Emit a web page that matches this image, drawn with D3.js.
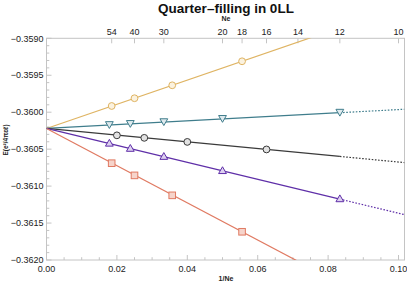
<!DOCTYPE html>
<html><head><meta charset="utf-8">
<script src="https://cdn.jsdelivr.net/npm/d3@7"></script>
<style>body{margin:0;background:#fff}svg{display:block}text{font-family:"Liberation Sans",Arial,sans-serif}</style>
</head><body><svg id="c" width="407" height="285"></svg>
<script>
// ---- data ----
const neYellow = [54, 40, 28, 18];
const eYellow  = [-0.359916, -0.359811, -0.359636, -0.359311];
const neTeal   = [56, 42, 30, 20, 12];
const eTeal    = [-0.360174, -0.360159, -0.360135, -0.360091, -0.360007];
const neBlack  = [50, 36, 25, 16];
const eBlack   = [-0.360313, -0.360347, -0.360402, -0.360504];
const nePurple = [56, 42, 30, 20, 12];
const ePurple  = [-0.360424, -0.360494, -0.360603, -0.360795, -0.361176];
const neRed    = [54, 40, 28, 18];
const eRed     = [-0.360690, -0.360855, -0.361125, -0.361618];
const fitIntercept = -0.36022;
const fitSlopes = [0.01636, 0.002556, -0.004544, -0.01147, -0.02516];
const fitSolidEnd = 1/12;
const topNeTicks = [54, 40, 30, 20, 18, 16, 14, 12, 10];
const xTicks = [0, 0.02, 0.04, 0.06, 0.08, 0.10];
const yTicks = [-0.3620, -0.3615, -0.3610, -0.3605, -0.3600, -0.3595, -0.3590];

const colors  = ["#dfb463", "#3f7d8c", "#3a3a3a", "#5f2fa8", "#e07a62"];
const fills   = ["#fbf2df", "#dfeaee", "#e2e2e2", "#ddd0f0", "#f6d4cb"];
const shapes  = ["circle", "tridown", "circle", "triup", "square"];
const neAll = [neYellow, neTeal, neBlack, nePurple, neRed];
const eAll  = [eYellow, eTeal, eBlack, ePurple, eRed];

// ---- layout ----
const svg = d3.select("#c");
const L = 46.5, R = 404.5, T = 38.3, B = 260;
const x = d3.scaleLinear().domain([0, 0.1017]).range([L, R]);
const y = d3.scaleLinear().domain([-0.3620, -0.3590]).range([B, T]);
const frameCol = "#c4c4c4";

svg.append("defs").append("clipPath").attr("id","clip")
  .append("rect").attr("x",L).attr("y",T).attr("width",R-L).attr("height",B-T);

// frame
svg.append("rect").attr("x",L).attr("y",T).attr("width",R-L).attr("height",B-T)
  .attr("fill","none").attr("stroke",frameCol).attr("stroke-width",1);

// bottom axis ticks (inward)
const g = svg.append("g");
const xMinor = d3.range(0, 0.1001, 0.005);
xMinor.forEach(v=>{
  const major = xTicks.some(t=>Math.abs(t-v)<1e-9);
  g.append("line").attr("x1",x(v)).attr("x2",x(v)).attr("y1",B).attr("y2",B-(major?5:2.8))
    .attr("stroke",frameCol);
});
xTicks.forEach(v=>{
  g.append("text").attr("x",x(v)).attr("y",B+12).attr("text-anchor","middle")
    .attr("font-size",9).attr("fill","#222").text(v.toFixed(2));
});
// left axis ticks
const yMinor = d3.range(0, 31).map(i=>-0.3620 + i*0.0001);
yMinor.forEach(v=>{
  const major = yTicks.some(t=>Math.abs(t-v)<1e-9);
  g.append("line").attr("x1",L).attr("x2",L+(major?5:2.8)).attr("y1",y(v)).attr("y2",y(v))
    .attr("stroke",frameCol);
});
yTicks.forEach(v=>{
  g.append("text").attr("x",L-3).attr("y",y(v)+3.2).attr("text-anchor","end")
    .attr("font-size",9).attr("fill","#222").text("\u2212"+Math.abs(v).toFixed(4));
});
// top axis (Ne)
topNeTicks.forEach(n=>{
  g.append("line").attr("x1",x(1/n)).attr("x2",x(1/n)).attr("y1",T).attr("y2",T+5).attr("stroke",frameCol);
  g.append("text").attr("x",x(1/n)).attr("y",T-3).attr("text-anchor","middle")
    .attr("font-size",9).attr("fill","#222").text(n);
});

// labels
svg.append("text").attr("x",226).attr("y",13).attr("text-anchor","middle")
  .attr("font-size",13.5).attr("font-weight","bold").attr("fill","#111").text("Quarter\u2013filling in 0LL");
svg.append("text").attr("x",226).attr("y",21).attr("text-anchor","middle")
  .attr("font-size",7).attr("font-weight","bold").attr("fill","#222").text("Ne");
svg.append("text").attr("x",226).attr("y",281).attr("text-anchor","middle")
  .attr("font-size",7).attr("font-weight","bold").attr("fill","#222").text("1/Ne");
svg.append("text").attr("transform","translate(8,140) rotate(-90)").attr("text-anchor","middle")
  .attr("font-size",6.5).attr("font-weight","bold").attr("fill","#222").text("E(e\u00b2/4\u03c0\u03b5\u2113)");

// fit lines
const pg = svg.append("g").attr("clip-path","url(#clip)");
fitSlopes.forEach((s,i)=>{
  const f = v => fitIntercept + s*v;
  pg.append("line").attr("x1",x(0)).attr("y1",y(f(0))).attr("x2",x(fitSolidEnd)).attr("y2",y(f(fitSolidEnd)))
    .attr("stroke",colors[i]).attr("stroke-width",1.2);
  pg.append("line").attr("x1",x(fitSolidEnd)).attr("y1",y(f(fitSolidEnd))).attr("x2",x(0.1017)).attr("y2",y(f(0.1017)))
    .attr("stroke",colors[i]).attr("stroke-width",1.2).attr("stroke-dasharray","1.6,1.6");
});

// markers
function marker(sel, shape){
  if(shape==="circle") return sel.append("circle").attr("r",3.4);
  if(shape==="square") return sel.append("rect").attr("x",-3.3).attr("y",-3.3).attr("width",6.6).attr("height",6.6);
  if(shape==="triup") return sel.append("path").attr("d","M0,-4.2L3.9,2.6L-3.9,2.6Z");
  return sel.append("path").attr("d","M0,3.4L3.9,-3.4L-3.9,-3.4Z");
}
neAll.forEach((ns,i)=>{
  ns.forEach((n,j)=>{
    const mg = pg.append("g").attr("transform",`translate(${x(1/n)},${y(eAll[i][j])})`);
    marker(mg, shapes[i]).attr("fill",fills[i]).attr("stroke",colors[i]).attr("stroke-width",1);
  });
});
</script></body></html>
